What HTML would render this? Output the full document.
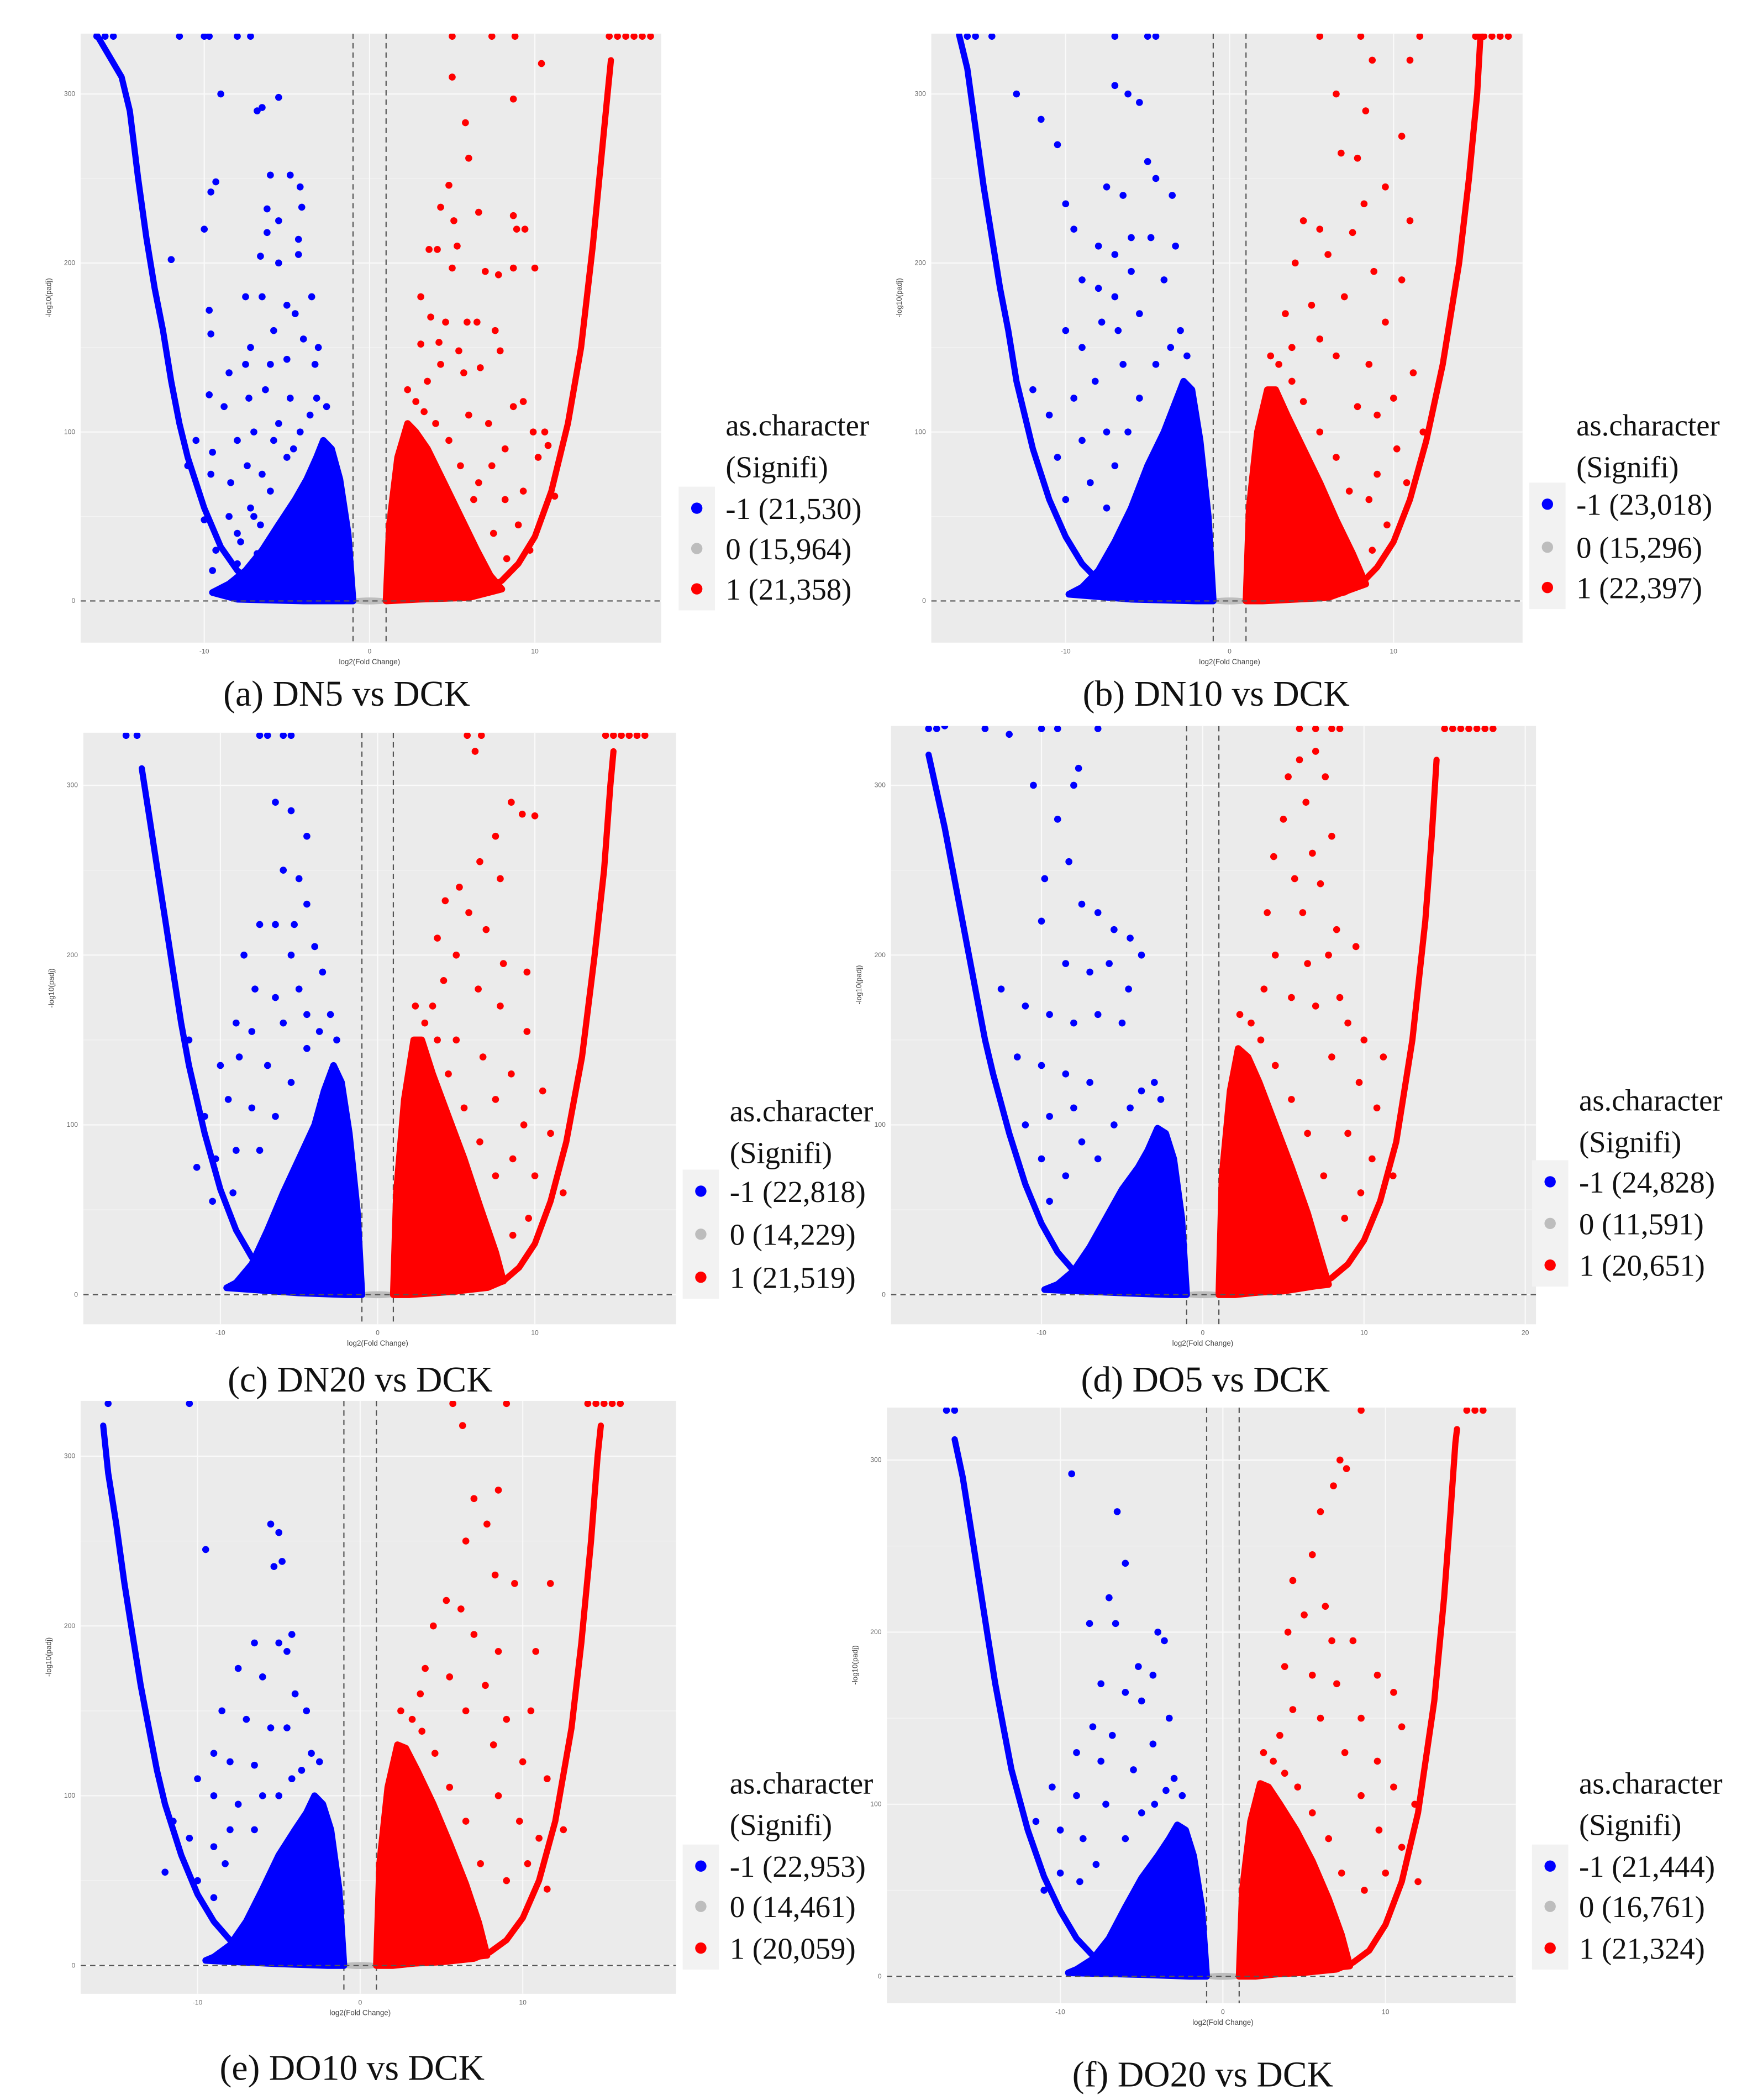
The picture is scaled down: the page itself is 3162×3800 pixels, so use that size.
<!DOCTYPE html>
<html><head><meta charset="utf-8"><style>
html,body{margin:0;padding:0;background:#fff;}
svg{display:block;}
</style></head><body>
<svg id="fig" xmlns="http://www.w3.org/2000/svg" width="3162" height="3800" viewBox="0 0 1300 1562" preserveAspectRatio="none"></svg>
<script>
// ---------- DATA ----------
const panelTitles = ["(a) DN5 vs DCK","(b) DN10 vs DCK","(c) DN20 vs DCK","(d) DO5 vs DCK","(e) DO10 vs DCK","(f) DO20 vs DCK"];
const legendDown = ["-1 (21,530)","-1 (23,018)","-1 (22,818)","-1 (24,828)","-1 (22,953)","-1 (21,444)"];
const legendNone = ["0 (15,964)","0 (15,296)","0 (14,229)","0 (11,591)","0 (14,461)","0 (16,761)"];
const legendUp = ["1 (21,358)","1 (22,397)","1 (21,519)","1 (20,651)","1 (20,059)","1 (21,324)"];
const xTicks = [[-10,0,10],[-10,0,10],[-10,0,10],[-10,0,10,20],[-10,0,10],[-10,0,10]];
const yTicks = [0,100,200,300];
const yCap = 335;

const leftCurves = [
 [[-16.5,335],[-15,310],[-14.5,290],[-14,250],[-13.5,215],[-13,185],[-12.5,160],[-12,130],[-11.5,105],[-11,85],[-10,55],[-9,32],[-8,18],[-7,10],[-6,5],[-5,3],[-3,1],[-1,0]],
 [[-16.5,335],[-16,315],[-15.5,280],[-15,245],[-14.5,215],[-14,185],[-13.5,160],[-13,130],[-12.5,110],[-12,90],[-11,60],[-10,38],[-9,22],[-8,12],[-6,5],[-4,2],[-1,0]],
 [[-15,310],[-14.5,280],[-14,250],[-13.5,220],[-13,190],[-12.5,160],[-12,135],[-11,95],[-10,62],[-9,38],[-8,22],[-7,12],[-5,4],[-3,1],[-1,0]],
 [[-17,318],[-16,275],[-15.5,250],[-15,225],[-14.5,200],[-14,175],[-13.5,150],[-13,130],[-12,95],[-11,65],[-10,42],[-9,25],[-8,14],[-6,5],[-4,2],[-1,0]],
 [[-15.8,318],[-15.5,290],[-15,260],[-14.5,225],[-14,195],[-13.5,165],[-13,140],[-12.5,115],[-12,95],[-11,65],[-10,42],[-9,26],[-8,15],[-6,6],[-4,2],[-1,0]],
 [[-16.5,312],[-16,290],[-15.5,260],[-15,230],[-14.5,200],[-14,170],[-13.5,145],[-13,120],[-12,85],[-11,58],[-10,38],[-9,22],[-8,12],[-6,5],[-4,2],[-1,0]]
];
const rightCurves = [
 [[1,0],[3,1],[5,3],[7,6],[8,12],[9,22],[10,38],[11,65],[12,105],[12.8,150],[13.5,210],[14,260],[14.4,300],[14.6,320]],
 [[1,0],[3,1],[5,2],[7,5],[8,10],[9,20],[10,35],[11,60],[12,95],[13,140],[14,200],[14.6,250],[15.1,300],[15.3,335]],
 [[1,0],[3,1],[5,2],[7,4],[8,8],[9,16],[10,30],[11,55],[12,90],[13,140],[13.8,200],[14.4,250],[14.8,300],[15,320]],
 [[1,0],[3,1],[5,2],[7,5],[8,10],[9,18],[10,32],[11,55],[12,90],[13,150],[13.8,220],[14.2,270],[14.5,315]],
 [[1,0],[3,1],[5,2],[7,4],[8,8],[9,15],[10,28],[11,50],[12,85],[13,140],[13.6,190],[14.2,250],[14.6,300],[14.8,318]],
 [[1,0],[3,1],[5,2],[7,4],[8,8],[9,15],[10,30],[11,55],[12,95],[13,160],[13.6,220],[14,270],[14.3,310],[14.4,318]]
];
const leftBlobs = [
 [[-1,0],[-1.3,40],[-1.8,72],[-2.3,90],[-2.8,95],[-3.2,85],[-3.8,72],[-4.5,60],[-5.5,45],[-6.5,30],[-7.5,18],[-8.5,10],[-9.5,5],[-8,1],[-4,0]],
 [[-1,0],[-1.3,50],[-1.8,95],[-2.3,125],[-2.8,130],[-3.4,115],[-4,100],[-5,80],[-6,55],[-7,35],[-8,18],[-9,8],[-9.8,4],[-6,1],[-2,0]],
 [[-1,0],[-1.3,50],[-1.8,95],[-2.3,125],[-2.8,135],[-3.4,120],[-4,100],[-5,80],[-6,60],[-7,38],[-8,18],[-9,7],[-9.6,4],[-5,1],[-2,0]],
 [[-1,0],[-1.3,45],[-1.8,80],[-2.3,95],[-2.8,98],[-3.4,85],[-4,75],[-5,62],[-6,45],[-7,28],[-8,14],[-9,6],[-9.8,3],[-5,1],[-2,0]],
 [[-1,0],[-1.3,45],[-1.8,80],[-2.3,95],[-2.8,100],[-3.3,90],[-4,80],[-5,65],[-6,45],[-7,26],[-8,12],[-9,5],[-9.5,3],[-5,1],[-2,0]],
 [[-1,0],[-1.3,40],[-1.8,70],[-2.3,85],[-2.8,88],[-3.3,80],[-4,70],[-5,57],[-6,40],[-7,22],[-8,10],[-9,4],[-9.5,2],[-5,1],[-2,0]]
];
const rightBlobs = [
 [[1,0],[1.2,45],[1.7,85],[2.3,105],[2.8,100],[3.5,90],[4.5,70],[5.5,50],[6.5,30],[7.3,15],[8,7],[6,2],[3,1]],
 [[1,0],[1.2,55],[1.7,100],[2.3,125],[2.8,125],[3.5,110],[4.5,90],[5.5,70],[6.5,48],[7.5,28],[8.3,10],[6,2],[2,0]],
 [[1,0],[1.2,60],[1.7,115],[2.3,150],[2.8,150],[3.5,130],[4.5,105],[5.5,80],[6.5,52],[7.5,25],[8,8],[5,2],[2,0]],
 [[1,0],[1.2,70],[1.7,120],[2.2,145],[2.8,140],[3.5,125],[4.5,100],[5.5,75],[6.5,48],[7.3,22],[7.8,6],[4,2],[2,0]],
 [[1,0],[1.2,60],[1.7,105],[2.3,130],[2.8,128],[3.5,115],[4.5,95],[5.5,72],[6.5,48],[7.3,25],[7.8,6],[4,2],[2,0]],
 [[1,0],[1.2,50],[1.7,90],[2.3,112],[2.8,110],[3.5,100],[4.5,85],[5.5,67],[6.5,45],[7.3,24],[7.8,6],[4,2],[2,0]]
];
const leftPoints = [
 [[-12,202],[-10,220],[-9.6,242],[-9.3,248],[-9,300],[-6.8,290],[-6.5,292],[-5.5,298],[-6,252],[-4.8,252],[-4.2,245],[-4.1,233],[-6.2,232],[-5.5,225],[-6.2,218],[-6.6,204],[-5.5,200],[-4.3,214],[-4.3,205],[-7.5,180],[-6.5,180],[-5,175],[-4.5,170],[-3.5,180],[-9.7,172],[-9.6,158],[-7.2,150],[-5.8,160],[-4,155],[-3.1,150],[-8.5,135],[-7.5,140],[-6,140],[-5,143],[-3.3,140],[-9.7,122],[-8.8,115],[-7.3,120],[-6.3,125],[-4.8,120],[-10.5,95],[-9.5,88],[-8,95],[-7,100],[-5.5,105],[-11,80],[-9.6,75],[-8.4,70],[-7.4,80],[-6.5,75],[-10,48],[-8.5,50],[-7.2,55],[-9.3,30],[-7.8,35],[-6.6,45],[-9.5,18],[-8,22],[-6.8,28],[-3.2,120],[-3.6,110],[-4.2,100],[-2.6,115],[-5,85],[-6,65],[-7,50],[-8,40],[-5.8,95],[-4.6,90]],
 [[-13,300],[-11.5,285],[-10.5,270],[-7,305],[-6.2,300],[-5.5,295],[-10,235],[-9.5,220],[-7.5,245],[-6.5,240],[-5,260],[-4.5,250],[-3.5,240],[-8,210],[-7,205],[-6,215],[-4.8,215],[-3.3,210],[-9,190],[-8,185],[-7,180],[-6,195],[-4,190],[-12,125],[-10,160],[-9,150],[-7.8,165],[-6.8,160],[-5.5,170],[-11,110],[-9.5,120],[-8.2,130],[-6.5,140],[-10.5,85],[-9,95],[-7.5,100],[-10,60],[-8.5,70],[-7.5,55],[-3,160],[-3.6,150],[-4.5,140],[-5.5,120],[-2.6,145],[-6.2,100],[-7,80]],
 [[-13,335],[-6.5,290],[-5.5,285],[-4.5,270],[-6,250],[-5,245],[-4.5,230],[-7.5,218],[-6.5,218],[-5.3,218],[-8.5,200],[-4,205],[-5.5,200],[-3.5,190],[-7.8,180],[-6.5,175],[-5,180],[-9,160],[-8,155],[-6,160],[-4.5,165],[-10,135],[-8.8,140],[-7,135],[-11,105],[-9.5,115],[-8,110],[-11.5,75],[-10.3,80],[-9,85],[-12,150],[-10.5,55],[-9.2,60],[-3,165],[-3.7,155],[-4.5,145],[-5.5,125],[-6.5,105],[-7.5,85],[-2.6,150]],
 [[-16,335],[-12,330],[-10.5,300],[-9,280],[-8,300],[-7.7,310],[-9.8,245],[-8.3,255],[-7.5,230],[-6.5,225],[-5.5,215],[-4.5,210],[-3.8,200],[-10,220],[-8.5,195],[-7,190],[-5.8,195],[-4.6,180],[-12.5,180],[-11,170],[-9.5,165],[-8,160],[-6.5,165],[-5,160],[-11.5,140],[-10,135],[-8.5,130],[-7,125],[-11,100],[-9.5,105],[-8,110],[-10,80],[-8.5,70],[-7.5,90],[-9.5,55],[-3,125],[-3.8,120],[-4.5,110],[-5.5,100],[-6.5,80],[-2.6,115]],
 [[-9.5,245],[-5.5,260],[-5,255],[-4.8,238],[-5.3,235],[-6.5,190],[-5,190],[-4.2,195],[-4.5,185],[-7.5,175],[-6,170],[-4,160],[-3.3,150],[-8.5,150],[-7,145],[-5.5,140],[-4.5,140],[-9,125],[-8,120],[-6.5,118],[-10,110],[-9,100],[-7.5,95],[-6,100],[-11.5,85],[-10.5,75],[-9,70],[-8,80],[-12,55],[-10,50],[-9,40],[-8.3,60],[-3,125],[-3.6,115],[-4.2,110],[-5,100],[-2.5,120],[-6.5,80]],
 [[-9.3,292],[-6.5,270],[-6,240],[-7,220],[-6.6,205],[-8.2,205],[-4,200],[-3.6,195],[-5.2,180],[-4.3,175],[-7.5,170],[-6,165],[-5,160],[-3.3,150],[-8,145],[-6.8,140],[-4.3,135],[-9,130],[-7.5,125],[-5.5,120],[-10.5,110],[-9,105],[-7.2,100],[-11.5,90],[-10,85],[-8.6,80],[-10,60],[-8.8,55],[-11,50],[-7.8,65],[-3,115],[-3.5,108],[-4.2,100],[-5,95],[-2.5,105],[-6,80]]
];
const rightPoints = [
 [[5,310],[10.4,318],[5.8,283],[8.7,297],[6,262],[4.8,246],[4.3,233],[5.1,225],[6.6,230],[8.7,228],[9.4,220],[8.9,220],[3.6,208],[4.1,208],[5.3,210],[7,195],[7.8,193],[8.7,197],[10,197],[5,197],[3.1,180],[3.7,168],[4.6,165],[5.9,165],[6.5,165],[7.6,160],[3.1,152],[4.2,153],[5.4,148],[6.7,138],[7.9,148],[3.5,130],[4.3,140],[5.7,135],[9.3,118],[8.7,115],[6,110],[7.2,105],[9.9,100],[10.6,100],[8.2,90],[10.2,85],[10.8,92],[7.4,80],[6.6,70],[9.3,65],[8.2,60],[9,45],[7.5,40],[9.7,30],[8.3,25],[11.2,62],[2.3,125],[2.8,118],[3.3,112],[4,105],[4.8,95],[5.5,80],[6.3,60]],
 [[8.7,320],[11,320],[6.5,300],[8.3,290],[10.5,275],[7.8,262],[6.8,265],[8.2,235],[9.5,245],[11,225],[4.5,225],[5.5,220],[7.5,218],[4,200],[6,205],[8.8,195],[10.5,190],[3.4,170],[5,175],[7,180],[9.5,165],[3.8,150],[5.5,155],[6.5,145],[8.5,140],[11.2,135],[10,120],[9,110],[7.8,115],[11.8,100],[10.2,90],[9,75],[8.5,60],[10.8,70],[9.6,45],[8.7,30],[2.5,145],[3,140],[3.8,130],[4.5,118],[5.5,100],[6.5,85],[7.3,65]],
 [[6.2,320],[10,282],[9.2,283],[8.5,290],[7.5,270],[6.5,255],[5.2,240],[7.8,245],[4.3,232],[5.8,225],[6.9,215],[3.8,210],[5,200],[8,195],[9.5,190],[4.2,185],[6.4,180],[7.8,170],[3.5,170],[9.5,155],[5,150],[6.7,140],[8.5,130],[10.5,120],[7.5,115],[9.3,100],[11,95],[8.6,80],[10,70],[11.8,60],[9.6,45],[8.6,35],[2.4,170],[3,160],[3.8,150],[4.5,130],[5.5,110],[6.5,90],[7.5,70]],
 [[6,315],[7,320],[5.3,305],[6.4,290],[7.6,305],[5,280],[6.8,260],[8,270],[4.4,258],[5.7,245],[7.3,242],[4,225],[6.2,225],[8.3,215],[4.5,200],[6.5,195],[7.8,200],[9.5,205],[3.8,180],[5.5,175],[7,170],[8.5,175],[10,150],[9,160],[11.2,140],[8,140],[9.7,125],[10.8,110],[9,95],[10.5,80],[9.8,60],[11.8,70],[8.8,45],[2.3,165],[3,160],[3.6,150],[4.5,135],[5.5,115],[6.5,95],[7.5,70]],
 [[6.3,318],[7.5,335],[8.5,280],[7,275],[7.8,260],[6.5,250],[8.3,230],[5.3,215],[6.2,210],[9.5,225],[11.7,225],[4.5,200],[7,195],[8.5,185],[10.8,185],[4,175],[5.5,170],[7.7,165],[3.7,160],[6.5,150],[9,145],[10.5,150],[8.2,130],[10,120],[11.5,110],[8.5,100],[9.8,85],[11,75],[12.5,80],[10.3,60],[9,50],[11.5,45],[2.5,150],[3.2,145],[3.8,138],[4.6,125],[5.5,105],[6.5,85],[7.4,60]],
 [[7.2,300],[7.6,295],[6.8,285],[6,270],[5.5,245],[4.3,230],[5,210],[6.3,215],[4,200],[6.7,195],[8,195],[3.8,180],[5.5,175],[7,170],[9.5,175],[10.5,165],[4.3,155],[6,150],[8.5,150],[11,145],[3.5,140],[7.5,130],[9.5,125],[10.5,110],[8.5,105],[11.8,100],[9.6,85],[11,75],[10,60],[8.7,50],[12,55],[2.5,130],[3.1,125],[3.8,118],[4.6,110],[5.5,95],[6.5,80],[7.3,60]]
];
const leftCaps = [[-16.5,-16,-15.5,-11.5,-10,-9.7,-8,-7.2],[-16,-15.5,-14.5,-7,-5,-4.5],[-16,-15.3,-7.5,-7,-6,-5.5],[-17,-16.5,-13.5,-10,-9,-6.5],[-15.5,-10.5],[-17,-16.5]];
const rightCaps = [[5,7.4,8.8,14.5,15,15.5,16,16.5,17],[5.5,8,11.6,15,15.5,16,16.5,17],[5.7,6.6,14.5,15,15.5,16,16.5,17],[6,7,8,8.5,15,15.5,16,16.5,17,17.5,18],[5.7,9,14,14.5,15,15.5,16],[8.5,15,15.5,16]];

// ---------- LAYOUT (pixel geometry, not data) ----------
const layout = [
 {bg:[60,25,492,478], x0:275, xs:12.3, y0:447, ys:1.257, key:505, tc:316, rows:[378,408,438], cx:258, cy:525},
 {bg:[693,25,1133,478], x0:915, xs:12.2, y0:447, ys:1.257, key:1138, tc:316, rows:[375,407,437], cx:905, cy:525},
 {bg:[62,545,503,985], x0:281, xs:11.7, y0:963, ys:1.263, key:508, tc:826, rows:[886,918,950], cx:268, cy:1035},
 {bg:[663,540,1143,985], x0:895, xs:12.0, y0:963, ys:1.263, key:1140, tc:818, rows:[879,910,941], cx:897, cy:1035},
 {bg:[60,1042,503,1483], x0:268, xs:12.1, y0:1462, ys:1.263, key:508, tc:1326, rows:[1388,1418,1449], cx:262, cy:1547},
 {bg:[660,1047,1128,1490], x0:910, xs:12.1, y0:1470, ys:1.28, key:1140, tc:1326, rows:[1388,1418,1449], cx:895, cy:1552}
];
const BLUE="#0000ff", RED="#ff0000", GREY="#bdbdbd";
const NS="http://www.w3.org/2000/svg";
const svg=document.getElementById('fig');
function mk(tag, parent, attrs){const e=document.createElementNS(NS,tag);for(const k in attrs)e.setAttribute(k,attrs[k]);parent.appendChild(e);return e;}

layout.forEach((L,i)=>{
  const sx=v=>L.x0+v*L.xs, sy=v=>L.y0-v*L.ys;
  const g=mk('g',svg,{});
  
  
  const [bx0,by0,bx1,by1]=L.bg;
  const bg=mk('rect',g,{x:bx0,y:by0,width:bx1-bx0,height:by1-by0,fill:'#ebebeb'});
  
  
  const clip=mk('clipPath',g,{id:'clip'+i});
  mk('rect',clip,{x:bx0,y:by0,width:bx1-bx0,height:by1-by0});
  const pg=mk('g',g,{'clip-path':'url(#clip'+i+')'});
  yTicks.forEach(t=>{const l=mk('line',pg,{x1:bx0,x2:bx1,y1:sy(t),y2:sy(t),stroke:'#fafafa','stroke-width':0.9});
    
    const m=mk('line',pg,{x1:bx0,x2:bx1,y1:sy(t+50),y2:sy(t+50),stroke:'#f4f4f4','stroke-width':0.5});
    });
  xTicks[i].forEach(t=>{const l=mk('line',pg,{x1:sx(t),x2:sx(t),y1:by0,y2:by1,stroke:'#fafafa','stroke-width':0.9});
    });
  [-1,1].forEach(t=>{const l=mk('line',pg,{x1:sx(t),x2:sx(t),y1:by0,y2:by1,stroke:'#555','stroke-width':0.9,'stroke-dasharray':'4,3'});
    });
  const gz=mk('ellipse',pg,{cx:sx(0),cy:sy(0),rx:L.xs*1.3,ry:2.6,fill:GREY});
  
  const ptsStr=arr=>arr.map(p=>sx(p[0]).toFixed(1)+','+sy(p[1]).toFixed(1)).join(' ');
  [[leftBlobs[i],BLUE,'down-dense-region'],[rightBlobs[i],RED,'up-dense-region']].forEach(([b,c,n])=>{
    const p=mk('polygon',pg,{points:ptsStr(b),fill:c,stroke:c,'stroke-width':5,'stroke-linejoin':'round'});
    });
  [[leftCurves[i],BLUE,'down-envelope'],[rightCurves[i],RED,'up-envelope']].forEach(([b,c,n])=>{
    const p=mk('polyline',pg,{points:ptsStr(b),fill:'none',stroke:c,'stroke-width':4.6,'stroke-linejoin':'round','stroke-linecap':'round'});
    });
  [[leftPoints[i],BLUE,'down-point'],[rightPoints[i],RED,'up-point']].forEach(([arr,c,n])=>{
    arr.forEach(p=>{const d=mk('circle',pg,{cx:sx(p[0]),cy:sy(p[1]),r:2.6,fill:c});
      });});
  [[leftCaps[i],BLUE,'down-capped-point'],[rightCaps[i],RED,'up-capped-point']].forEach(([arr,c,n])=>{
    arr.forEach(v=>{const d=mk('circle',pg,{cx:sx(v),cy:Math.max(sy(yCap),by0+2),r:2.6,fill:c});
      });});
  const hl=mk('line',pg,{x1:bx0,x2:bx1,y1:sy(0),y2:sy(0),stroke:'#555','stroke-width':0.9,'stroke-dasharray':'4,3'});
  
  yTicks.forEach(t=>{const tx=mk('text',g,{x:bx0-4,y:sy(t)+1.5,'font-size':5,'text-anchor':'end',fill:'#666','font-family':'Liberation Sans, sans-serif'});
    tx.textContent=t;});
  xTicks[i].forEach(t=>{const tx=mk('text',g,{x:sx(t),y:by1+8,'font-size':5,'text-anchor':'middle',fill:'#666','font-family':'Liberation Sans, sans-serif'});
    tx.textContent=t;});
  const xt=mk('text',g,{x:sx(0),y:by1+16,'font-size':5.5,'text-anchor':'middle',fill:'#444','font-family':'Liberation Sans, sans-serif'});
  xt.textContent='log2(Fold Change)';
  const ym=(by0+by1)/2-30;
  const yt=mk('text',g,{x:bx0-22,y:ym,'font-size':5.5,'text-anchor':'middle',fill:'#444','font-family':'Liberation Sans, sans-serif',transform:'rotate(-90 '+(bx0-22)+' '+ym+')'});
  yt.textContent='-log10(padj)';
  const tf='Liberation Serif, serif';
  const t1=mk('text',g,{x:L.key+35,y:L.tc+8,'font-size':22.5,fill:'#111','font-family':tf});
  t1.textContent='as.character';
  const t2=mk('text',g,{x:L.key+35,y:L.tc+39,'font-size':22.5,fill:'#111','font-family':tf});
  t2.textContent='(Signifi)';
  const kb=mk('rect',g,{x:L.key,y:L.rows[0]-16,width:27,height:L.rows[2]-L.rows[0]+32,fill:'#f2f2f2'});
  
  [[legendDown[i],BLUE],[legendNone[i],GREY],[legendUp[i],RED]].forEach(([lab,c],k)=>{
    const d=mk('circle',g,{cx:L.key+13.5,cy:L.rows[k],r:4.2,fill:c});
    
    const t=mk('text',g,{x:L.key+35,y:L.rows[k]+8,'font-size':22.5,fill:'#111','font-family':tf});
    t.textContent=lab;});
  const cap=mk('text',g,{x:L.cx,y:L.cy,'font-size':27,'text-anchor':'middle',fill:'#111','font-family':tf});
  cap.textContent=panelTitles[i];
});
</script>
</body></html>
